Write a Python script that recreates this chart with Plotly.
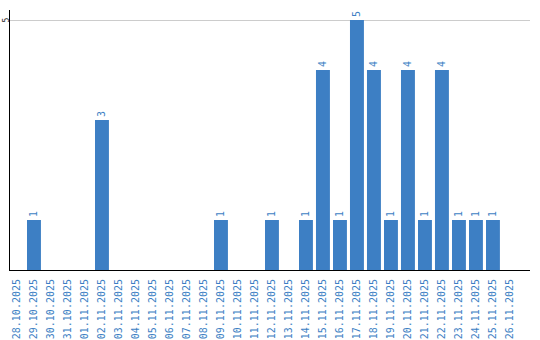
import plotly.graph_objects as go

dates = ["28.10.2025", "29.10.2025", "30.10.2025", "31.10.2025", "01.11.2025",
         "02.11.2025", "03.11.2025", "04.11.2025", "05.11.2025", "06.11.2025",
         "07.11.2025", "08.11.2025", "09.11.2025", "10.11.2025", "11.11.2025",
         "12.11.2025", "13.11.2025", "14.11.2025", "15.11.2025", "16.11.2025",
         "17.11.2025", "18.11.2025", "19.11.2025", "20.11.2025", "21.11.2025",
         "22.11.2025", "23.11.2025", "24.11.2025", "25.11.2025", "26.11.2025"]
counts = [0, 1, 0, 0, 0, 3, 0, 0, 0, 0, 0, 0, 1, 0, 0, 1, 0, 1, 4, 1,
          5, 4, 1, 4, 1, 4, 1, 1, 1, 0]
y_ticks = [5]

labels = [str(v) if v > 0 else "" for v in counts]
blue = "#3d7fc4"
font = "DejaVu Sans Mono"

fig = go.Figure(go.Bar(
    x=dates, y=counts, marker_color=blue, marker_line_width=0,
    text=labels, textposition="outside", textangle=-90,
    textfont=dict(family=font, size=10, color=blue),
    cliponaxis=False,
))
for t in y_ticks:
    fig.add_annotation(x=0, xref="paper", y=t, yref="y", text=str(t),
                       textangle=-90, showarrow=False, xanchor="center",
                       yanchor="middle", xshift=-4.5, borderpad=0,
                       font=dict(family=font, size=8, color="#222"))
fig.update_layout(
    width=540, height=340, margin=dict(l=10, r=10, t=10, b=70),
    paper_bgcolor="white", plot_bgcolor="white",
    bargap=0.18, showlegend=False,
    xaxis=dict(type="category", range=[-0.41, 30.18], tickangle=-90,
               tickfont=dict(family=font, size=10, color=blue),
               showline=True, linecolor="black", linewidth=1,
               showgrid=False, ticks="", automargin=False, ticklabelstandoff=4),
    yaxis=dict(range=[0, 5.2], tickvals=y_ticks, showticklabels=False,
               showline=True, linecolor="black", linewidth=1,
               showgrid=True, gridcolor="#cccccc", zeroline=False, ticks="",
               automargin=False),
)
fig.write_html("out.html")
